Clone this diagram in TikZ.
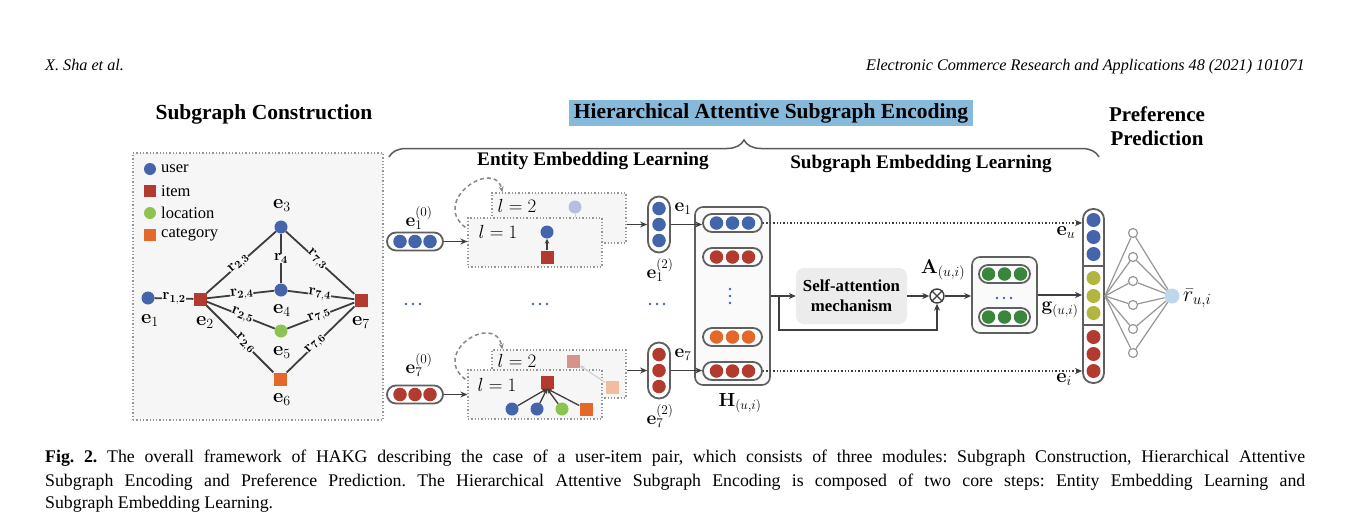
\RequirePackage{fix-cm}
\documentclass[tikz,border=0pt]{standalone}
\usepackage[no-math]{fontspec}
\setmainfont{Liberation Serif}
\usetikzlibrary{arrows.meta,calc,decorations.pathreplacing}
\definecolor{cuser}{RGB}{68,100,172}
\definecolor{citem}{RGB}{178,58,46}
\definecolor{cloc}{RGB}{140,196,82}
\definecolor{ccat}{RGB}{228,104,42}
\definecolor{cgreen}{RGB}{58,134,60}
\definecolor{colive}{RGB}{178,182,62}
\definecolor{cedge}{RGB}{62,62,62}
\definecolor{cpill}{RGB}{95,95,95}
\definecolor{cpanel}{RGB}{246,246,246}
\definecolor{cbox}{RGB}{250,250,250}
\definecolor{cdot}{RGB}{150,150,150}
\definecolor{chl}{RGB}{135,185,218}
\definecolor{cmlp}{RGB}{150,150,150}
\definecolor{cout}{RGB}{190,214,238}
\definecolor{csa}{RGB}{236,236,236}
\definecolor{cbrace}{RGB}{90,90,90}
\newcommand\fsz[2]{\fontsize{#1}{#2}\selectfont}
\newcommand\capfont{\fsz{17.8}{21}\frenchspacing}
% horizontal pill: name, x, y, colour, width, offset
\newcommand\hpill[6]{%
  \node[pillh,minimum width=#5] (#1) at (#2,#3) {};
  \foreach \dx in {-#6,0,#6}{\node[cn=#4] at ($(#1.center)+(\dx,0)$) {};}%
}
% vertical pill: name, x, y, colour
\newcommand\vpill[4]{%
  \node[pillv] (#1) at (#2,#3) {};
  \foreach \dy in {-16,0,16}{\node[cn=#4,minimum size=13.5pt] at ($(#1.center)+(0,\dy)$) {};}%
}
\begin{document}
\begin{tikzpicture}[x=1pt,y=-1pt,
  cn/.style={circle,inner sep=0pt,minimum size=13.5pt,fill=#1},
  sqn/.style={rectangle,inner sep=0pt,minimum size=13pt,fill=#1},
  pillh/.style={draw=cpill,line width=1.8pt,fill=white,rounded corners=9pt,minimum height=18pt,inner sep=0pt},
  pillv/.style={draw=cpill,line width=1.8pt,fill=white,rounded corners=11pt,minimum width=22pt,minimum height=56pt,inner sep=0pt},
  bigbox/.style={draw=cpill,line width=1.6pt,fill=cbox,rounded corners=8pt,inner sep=0pt},
  lbox/.style={draw=cdot,dotted,line width=1.3pt,fill=cpanel,inner sep=0pt},
  arr/.style={draw=cedge,line width=1.5pt,-{Stealth[length=7pt,width=6pt]}},
  sarr/.style={draw=cedge,line width=1.3pt,-{Stealth[length=5pt,width=4.5pt]}},
  dotarr/.style={draw=cedge,line width=1.4pt,dotted,-{Stealth[length=7pt,width=6pt]}},
  dashloop/.style={draw=cdot!90!black,line width=1.5pt,dash pattern=on 4pt off 3pt,-{Stealth[length=6pt,width=5pt]}},
  gedge/.style={draw=cedge,line width=1.8pt},
  elab/.style={fill=cpanel,inner sep=0pt,font=\fsz{15.5}{17}},
  lab/.style={inner sep=0pt,font=\fsz{19}{22}},
  glab/.style={inner sep=0pt,font=\fsz{20}{23}},
  ttl/.style={inner sep=0pt,font=\fsz{19}{23}\bfseries},
  mlp/.style={draw=cmlp,line width=1.2pt},
  hid/.style={circle,draw=cmlp,line width=1.2pt,fill=white,minimum size=9pt,inner sep=0pt},
  bdot/.style={circle,fill=cuser,inner sep=0pt,minimum size=2.8pt},
]
\useasboundingbox (0,0) rectangle (1353,517);
\fill[white] (0,0) rectangle (1353,517);

% ---------- header ----------
\node[anchor=base west,inner sep=0pt,font=\fsz{16.2}{19}\itshape] (hdl) at (45,70) {X. Sha et al.};
\node[anchor=base east,inner sep=0pt,font=\fsz{16.2}{19}\itshape] (hdr) at (1305,70) {Electronic Commerce Research and Applications 48 (2021) 101071};

% ---------- titles ----------
\node[ttl,font=\fsz{21.5}{25}\bfseries] (tsc) at (264,114) {Subgraph Construction};
\node[fill=chl,inner sep=0pt,minimum width=404pt,minimum height=26pt,font=\fsz{21.5}{25}\bfseries] (thase) at (771,113) {Hierarchical Attentive Subgraph Encoding};
\node[ttl,align=center,font=\fsz{21}{24}\bfseries] (tpp) at (1157,126) {Preference\\Prediction};
\draw[decorate,decoration={brace,amplitude=17pt},draw=cbrace,line width=1.5pt] (389,157) -- (1099,157);
\node[ttl,font=\fsz{19.2}{22}\bfseries] (teel) at (593,161) {Entity Embedding Learning};
\node[ttl,font=\fsz{19.2}{22}\bfseries] (tsel) at (921,164) {Subgraph Embedding Learning};

% ---------- subgraph construction ----------
\node[lbox,minimum width=250pt,minimum height=267pt] (sgpanel) at (258,286.5) {};
\node[cn=cuser,minimum size=12pt] (lg1) at (150,169) {};
\node[sqn=citem,minimum size=12pt] (lg2) at (150,191) {};
\node[cn=cloc,minimum size=12pt] (lg3) at (150,213) {};
\node[sqn=ccat,minimum size=12pt] (lg4) at (150,235) {};
\node[anchor=west,inner sep=0pt,font=\fsz{16.5}{19}] (lgt1) at (161,169) {user};
\node[anchor=west,inner sep=0pt,font=\fsz{16.5}{19}] (lgt2) at (161,191) {item};
\node[anchor=west,inner sep=0pt,font=\fsz{16.5}{19}] (lgt3) at (161,213) {location};
\node[anchor=west,inner sep=0pt,font=\fsz{16.5}{19}] (lgt4) at (161,235) {category};

\node[cn=cuser,minimum size=13pt] (e1) at (148,298) {};
\node[sqn=citem,minimum size=13pt] (e2) at (200,299) {};
\node[cn=cuser,minimum size=13pt] (e3) at (281,227) {};
\node[cn=cuser,minimum size=13pt] (e4) at (281,290) {};
\node[cn=cloc,minimum size=13pt] (e5) at (281,331) {};
\node[sqn=ccat,minimum size=13pt] (e6) at (280,379) {};
\node[sqn=citem,minimum size=13pt] (e7) at (361,300) {};

\draw[gedge] (e1) -- node[elab] {$\mathbf{r}_{\mathbf{1,2}}$} (e2);
\draw[gedge] (e3) -- node[elab] {$\mathbf{r}_{\mathbf{4}}$} (e4);
\draw[gedge] (e2) -- node[elab,sloped,pos=0.47] {$\mathbf{r}_{\mathbf{2,3}}$} (e3);
\draw[gedge] (e2) -- node[elab,sloped,pos=0.52] {$\mathbf{r}_{\mathbf{2,4}}$} (e4);
\draw[gedge] (e2) -- node[elab,sloped,pos=0.52] {$\mathbf{r}_{\mathbf{2,5}}$} (e5);
\draw[gedge] (e2) -- node[elab,sloped,pos=0.57] {$\mathbf{r}_{\mathbf{2,6}}$} (e6);
\draw[gedge] (e7) -- node[elab,sloped,pos=0.55] {$\mathbf{r}_{\mathbf{7,3}}$} (e3);
\draw[gedge] (e7) -- node[elab,sloped,pos=0.52] {$\mathbf{r}_{\mathbf{7,4}}$} (e4);
\draw[gedge] (e7) -- node[elab,sloped,pos=0.52] {$\mathbf{r}_{\mathbf{7,5}}$} (e5);
\draw[gedge] (e7) -- node[elab,sloped,pos=0.57] {$\mathbf{r}_{\mathbf{7,6}}$} (e6);

\node[glab] (le1) at (150,321) {$\mathbf{e}_1$};
\node[glab] (le2) at (205,323) {$\mathbf{e}_2$};
\node[glab] (le3) at (282,206) {$\mathbf{e}_3$};
\node[glab] (le4) at (282,311) {$\mathbf{e}_4$};
\node[glab] (le5) at (282,353) {$\mathbf{e}_5$};
\node[glab] (le6) at (282,400) {$\mathbf{e}_6$};
\node[glab] (le7) at (361,323) {$\mathbf{e}_7$};

% ---------- entity embedding learning: top ----------
\node[lbox,minimum width=134pt,minimum height=50pt] (l2a) at (559,218) {};
\node[lab] (tl2a) at (517,206) {$l=2$};
\node[cn=cuser!40,minimum size=13pt] (fca) at (575,207) {};
\node[lbox,minimum width=134pt,minimum height=49pt] (l1a) at (535,242.5) {};
\draw[draw=cedge!25,line width=1pt] (fca.south) -- (fca |- l1a.north);
\node[lab] (tl1a) at (498,232) {$l=1$};
\node[cn=cuser,minimum size=13pt] (ua) at (547,232) {};
\node[sqn=citem,minimum size=13pt] (ia) at (547,257) {};
\draw[sarr] (ia) -- (ua);
\coordinate (lpa1) at ($(l1a.north west)+(-2,10)$);
\coordinate (lpa2) at ($(l2a.north west)+(11,0)$);
\draw[dashloop] (lpa1) .. controls (430,200) and (495,158) .. (lpa2);

\hpill{in1}{415}{241.5}{cuser}{56pt}{15}
\node[lab] (le10) at (419,218) {$\mathbf{e}_1^{(0)}$};
\draw[arr] (in1.east) -- (in1.east -| l1a.west);
\vpill{v1}{659}{224.5}{cuser}
\draw[arr] (l2a.east |- v1.west) -- (v1.west);
\node[lab] (le1b) at (683,209) {$\mathbf{e}_1$};
\node[lab] (le12) at (660,270) {$\mathbf{e}_1^{(2)}$};

% dots
\foreach \xx in {406,413,420,533,540,547,650,657,664}{\node[bdot] at (\xx,304) {};}

% ---------- entity embedding learning: bottom ----------
\node[lbox,minimum width=134pt,minimum height=48pt] (l2b) at (559,374) {};
\node[lab] (tl2b) at (517,361) {$l=2$};
\node[sqn=citem!55,minimum size=13pt] (fra) at (573,361) {};
\node[lbox,minimum width=134pt,minimum height=49pt] (l1b) at (535,394.5) {};
\node[sqn=ccat!45,minimum size=13pt] (foa) at (612,387) {};
\draw[draw=cedge!25,line width=1pt,-{Stealth[length=5pt,width=4.5pt]}] (foa) -- (fra);
\node[lab] (tl1b) at (497,385) {$l=1$};
\node[sqn=citem,minimum size=13pt] (ib) at (547,382) {};
\node[cn=cuser,minimum size=13pt] (nb1) at (512,409) {};
\node[cn=cuser,minimum size=13pt] (nb2) at (537,409) {};
\node[cn=cloc,minimum size=13pt] (nb3) at (562,409) {};
\node[sqn=ccat,minimum size=13pt] (nb4) at (586,409) {};
\foreach \nn in {nb1,nb2,nb3,nb4}{\draw[sarr] (\nn) -- (ib.south);}
\coordinate (lpb1) at ($(l1b.north west)+(-2,10)$);
\coordinate (lpb2) at ($(l2b.north west)+(11,0)$);
\draw[dashloop] (lpb1) .. controls (430,352) and (495,312) .. (lpb2);

\hpill{in7}{415}{394.5}{citem}{56pt}{15}
\node[lab] (le70) at (419,365) {$\mathbf{e}_7^{(0)}$};
\draw[arr] (in7.east) -- (in7.east -| l1b.west);
\vpill{v7}{659}{370.5}{citem}
\draw[arr] (l2b.east |- v7.west) -- (v7.west);
\node[lab] (le7b) at (683,355) {$\mathbf{e}_7$};
\node[lab] (le72) at (660,416) {$\mathbf{e}_7^{(2)}$};

% ---------- H panel ----------
\node[bigbox,minimum width=75pt,minimum height=178pt] (H) at (732.5,296) {};
\hpill{h1}{732.5}{223}{cuser}{59pt}{16}
\hpill{h2}{732.5}{257}{citem}{59pt}{16}
\hpill{h3}{732.5}{337}{ccat}{59pt}{16}
\hpill{h4}{732.5}{371}{citem}{59pt}{16}
\foreach \yy in {289,296,303}{\node[bdot] at (730,\yy) {};}
\node[lab] (lH) at (740,403) {$\mathbf{H}_{(u,i)}$};
\draw[arr] (v1.east) -- (v1.east -| h1.west);
\draw[arr] (v7.east) -- (v7.east -| h4.west);

% ---------- self-attention ----------
\node[fill=csa,rounded corners=8pt,minimum width=111pt,minimum height=56pt,inner sep=0pt,align=center,font=\fsz{16.8}{20}\bfseries] (sa) at (851.5,296) {Self-attention\\mechanism};
\node[circle,draw=cedge,line width=1.4pt,minimum size=14pt,inner sep=0pt] (ot) at (937,296) {};
\draw[cedge,line width=1.2pt] (ot.north west) -- (ot.south east) (ot.north east) -- (ot.south west);
\node[lab,font=\fsz{20}{23}] (lA) at (943,270) {$\mathbf{A}_{(u,i)}$};
\draw[arr] (H.east) -- (sa.west);
\coordinate (br) at ($(H.east)+(8,0)$);
\coordinate (lowy) at (0,330);
\draw[arr] (br) -- (br |- lowy) -- (ot |- lowy) -- (ot.south);
\draw[arr] (sa.east) -- (ot.west);

% ---------- g box ----------
\node[bigbox,minimum width=65pt,minimum height=76pt] (gb) at (1004.5,295) {};
\hpill{g1}{1004.5}{274}{cgreen}{51pt}{16}
\hpill{g2}{1004.5}{317}{cgreen}{51pt}{16}
\foreach \xx in {997,1004,1011}{\node[bdot] at (\xx,298) {};}
\draw[arr] (ot.east) -- (ot.east -| gb.west);

% ---------- final vector ----------
\node[draw=cpill,line width=1.8pt,fill=white,rounded corners=10pt,minimum width=21pt,minimum height=174pt,inner sep=0pt] (fv) at (1093.5,296) {};
\foreach \yy/\cc in {220/cuser,237/cuser,254/cuser,278/colive,296/colive,313/colive,337/citem,354/citem,371/citem}{\node[cn=\cc,minimum size=14pt] at (1093.5,\yy) {};}
\coordinate (sp1) at (1093.5,266);
\coordinate (sp2) at (1093.5,325);
\draw[cpill,line width=1.2pt] (sp1 -| fv.west) -- (sp1 -| fv.east);
\draw[cpill,line width=1.2pt] (sp2 -| fv.west) -- (sp2 -| fv.east);
\draw[arr] (gb.east) -- (gb.east -| fv.west);
\draw[dotarr] (h1.east) -- (h1.east -| fv.west);
\draw[dotarr] (h4.east) -- (h4.east -| fv.west);
\node[lab,font=\fsz{20}{23}] (leu) at (1066,233) {$\mathbf{e}_u$};
\node[lab,font=\fsz{20}{23}] (lei) at (1064,380) {$\mathbf{e}_i$};
\node[lab] (lg) at (1060,310) {$\mathbf{g}_{(u,i)}$};

% ---------- MLP ----------
\foreach \k in {0,...,5}{\node[hid] (hd\k) at (1133,{233+24*\k}) {};}
\node[circle,fill=cout,minimum size=15pt,inner sep=0pt] (out) at (1172,296) {};
\foreach \k in {0,...,5}{\draw[mlp] (fv.east) -- (hd\k); \draw[mlp] (hd\k) -- (out);}
\node[inner sep=0pt,font=\fsz{22}{25},anchor=west] (lr) at (1183,298) {$\bar{r}_{u,i}$};

% ---------- caption ----------
\node[anchor=base west,inner sep=0pt] (cap1) at (45,462) {\capfont\makebox[1260pt][s]{\textbf{Fig. 2.} The overall framework of HAKG describing the case of a user-item pair, which consists of three modules: Subgraph Construction, Hierarchical Attentive}};
\node[anchor=base west,inner sep=0pt] (cap2) at (45,486) {\capfont\makebox[1260pt][s]{Subgraph Encoding and Preference Prediction. The Hierarchical Attentive Subgraph Encoding is composed of two core steps: Entity Embedding Learning and}};
\node[anchor=base west,inner sep=0pt] (cap3) at (45,508) {\capfont Subgraph Embedding Learning.};
\end{tikzpicture}
\end{document}
